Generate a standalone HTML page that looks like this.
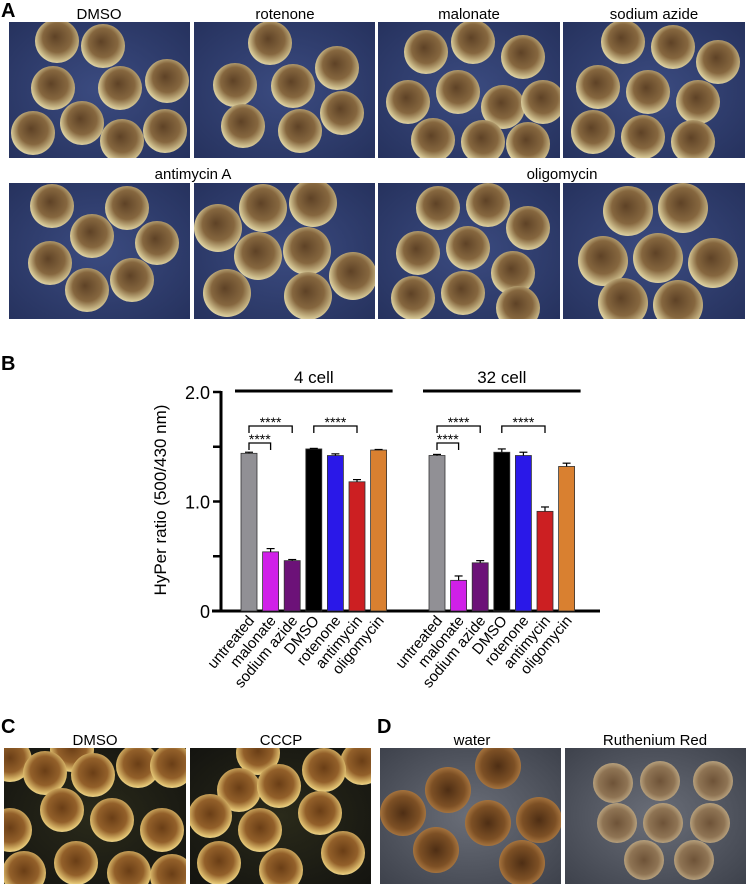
<!DOCTYPE html>
<html><head><meta charset="utf-8"><style>
html,body{margin:0;padding:0;background:#fff;}
svg{display:block;font-family:"Liberation Sans",Arial,sans-serif;}
</style></head><body>
<svg id="fig" width="747" height="886" viewBox="0 0 747 886">
<defs>
<radialGradient id="eggA" cx="0.55" cy="0.45" r="0.6" fx="0.45" fy="0.4">
<stop offset="0" stop-color="#5e4226"/><stop offset="0.55" stop-color="#86673f"/><stop offset="0.85" stop-color="#cdbd8c"/><stop offset="1" stop-color="#e9e1b8"/></radialGradient>
<radialGradient id="eggC" cx="0.5" cy="0.45" r="0.6">
<stop offset="0" stop-color="#6a3e16"/><stop offset="0.55" stop-color="#93602a"/><stop offset="0.85" stop-color="#e0c070"/><stop offset="1" stop-color="#f6eab0"/></radialGradient>
<radialGradient id="eggD" cx="0.5" cy="0.5" r="0.6">
<stop offset="0" stop-color="#4e2e14"/><stop offset="0.6" stop-color="#7d5025"/><stop offset="0.9" stop-color="#b07d45"/><stop offset="1" stop-color="#c89a60"/></radialGradient>
<radialGradient id="eggD2" cx="0.5" cy="0.5" r="0.6">
<stop offset="0" stop-color="#6e5338"/><stop offset="0.6" stop-color="#8f7454"/><stop offset="0.9" stop-color="#c2ad88"/><stop offset="1" stop-color="#d8c9a6"/></radialGradient>
<radialGradient id="bgC" cx="0.5" cy="0.5" r="0.7"><stop offset="0" stop-color="#2a2a1a"/><stop offset="1" stop-color="#141410"/></radialGradient>
<radialGradient id="bgA" cx="0.5" cy="0.5" r="0.7"><stop offset="0" stop-color="#3b4b80"/><stop offset="1" stop-color="#26325e"/></radialGradient>
<radialGradient id="bgD" cx="0.5" cy="0.5" r="0.7"><stop offset="0" stop-color="#6a6e78"/><stop offset="1" stop-color="#3e424c"/></radialGradient>
</defs>
<g id="photos"></g>
<g id="chart"></g>
<g font-weight="bold" font-size="20" fill="#000">
<text x="1" y="17">A</text>
<text x="1" y="370">B</text>
<text x="1" y="733">C</text>
<text x="377" y="733">D</text>
</g>
<g font-size="15" text-anchor="middle" fill="#000">
<text x="99" y="19">DMSO</text>
<text x="285" y="19">rotenone</text>
<text x="469" y="19">malonate</text>
<text x="654" y="19">sodium azide</text>
<text x="193" y="179">antimycin A</text>
<text x="562" y="179">oligomycin</text>
<text x="95" y="745">DMSO</text>
<text x="281" y="745">CCCP</text>
<text x="472" y="745">water</text>
<text x="655" y="745">Ruthenium Red</text>
</g>
</svg>
<script>
const NS="http://www.w3.org/2000/svg";
function mk(tag,attrs,parent){const e=document.createElementNS(NS,tag);for(const k in attrs)e.setAttribute(k,attrs[k]);parent.appendChild(e);return e;}
const photos=document.getElementById('photos');
const panels=[
 {n:'photo-dmso-a',x:9,y:22,w:181,h:136,bg:'url(#bgA)',egg:'url(#eggA)',r:22,e:[[48,19],[94,24],[44,66],[111,66],[158,59],[24,111],[73,101],[113,119],[156,109]]},
 {n:'photo-rotenone',x:194,y:22,w:181,h:136,bg:'url(#bgA)',egg:'url(#eggA)',r:22,e:[[76,21],[41,63],[99,64],[143,46],[49,104],[106,109],[148,91]]},
 {n:'photo-malonate',x:378,y:22,w:182,h:136,bg:'url(#bgA)',egg:'url(#eggA)',r:22,e:[[48,30],[95,20],[145,35],[30,80],[80,70],[125,85],[165,80],[55,118],[105,120],[150,122]]},
 {n:'photo-sodium-azide',x:563,y:22,w:182,h:136,bg:'url(#bgA)',egg:'url(#eggA)',r:22,e:[[60,20],[110,25],[155,40],[35,65],[85,70],[135,80],[30,110],[80,115],[130,120]]},
 {n:'photo-antimycin-1',x:9,y:183,w:181,h:136,bg:'url(#bgA)',egg:'url(#eggA)',r:22,e:[[43,23],[118,25],[83,53],[148,60],[41,80],[123,97],[78,107]]},
 {n:'photo-antimycin-2',x:194,y:183,w:181,h:136,bg:'url(#bgA)',egg:'url(#eggA)',r:24,e:[[69,25],[119,20],[24,45],[64,73],[113,68],[159,93],[33,110],[114,113]]},
 {n:'photo-oligomycin-1',x:378,y:183,w:182,h:136,bg:'url(#bgA)',egg:'url(#eggA)',r:22,e:[[60,25],[110,22],[150,45],[40,70],[90,65],[135,90],[35,115],[85,110],[140,125]]},
 {n:'photo-oligomycin-2',x:563,y:183,w:182,h:136,bg:'url(#bgA)',egg:'url(#eggA)',r:25,e:[[65,28],[120,25],[40,78],[95,75],[150,80],[60,120],[115,122]]},
 {n:'photo-dmso-c',x:4,y:748,w:182,h:136,bg:'url(#bgC)',egg:'url(#eggC)',r:22,e:[[68,2],[6,12],[41,25],[89,27],[134,18],[168,18],[58,62],[108,72],[158,82],[6,82],[72,115],[20,125],[125,125],[168,128]]},
 {n:'photo-cccp',x:190,y:748,w:181,h:136,bg:'url(#bgC)',egg:'url(#eggC)',r:22,e:[[68,5],[172,15],[49,42],[89,38],[134,22],[20,68],[70,82],[130,65],[29,115],[91,122],[153,105]]},
 {n:'photo-water',x:380,y:748,w:181,h:136,bg:'url(#bgD)',egg:'url(#eggD)',r:23,e:[[68,42],[118,18],[23,65],[108,75],[159,72],[56,102],[142,115]]},
 {n:'photo-ruthenium-red',x:565,y:748,w:181,h:136,bg:'url(#bgD)',egg:'url(#eggD2)',r:20,e:[[48,35],[95,33],[148,33],[52,75],[98,75],[145,75],[79,112],[129,112]]}
];
panels.forEach(p=>{
 const g=mk('g',{},photos);
 
 
 const cp=mk('clipPath',{id:'cp-'+p.n},g);
 mk('rect',{x:p.x,y:p.y,width:p.w,height:p.h},cp);
 mk('rect',{x:p.x,y:p.y,width:p.w,height:p.h,fill:p.bg},g);
 const eg=mk('g',{'clip-path':'url(#cp-'+p.n+')'},g);
 p.e.forEach(c=>{mk('circle',{cx:p.x+c[0],cy:p.y+c[1],r:p.r,fill:p.egg},eg);});
});

// ---- chart data ----
const categories=['untreated','malonate','sodium azide','DMSO','rotenone','antimycin','oligomycin'];
const colors=['#919095','#d020e8','#6c1278','#000000','#2a18e8','#cc1f22','#d98030'];
const values4=[1.44,0.54,0.46,1.48,1.42,1.18,1.47];
const errors4=[0.01,0.03,0.01,0.005,0.015,0.02,0.005];
const values32=[1.42,0.28,0.44,1.45,1.42,0.91,1.32];
const errors32=[0.01,0.04,0.02,0.03,0.03,0.04,0.03];
const yTicks=[0,0.5,1,1.5,2];
const yTickLabels=['0','','1.0','','2.0'];
const groupLabels=['4 cell','32 cell'];

const ch=document.getElementById('chart');
const y0=611,y2=392;
function yScale(v){return y0-(y0-y2)*v/2;}
const groupStart=[249,437];
const step=21.6,bw=16;
function xScale(g,i){return groupStart[g]+i*step;}

const ax=mk('line',{x1:221,y1:y2-1,x2:221,y2:y0+1,stroke:'#000','stroke-width':3},ch);


const xa=mk('line',{x1:212,y1:y0,x2:600,y2:y0,stroke:'#000','stroke-width':3},ch);


yTicks.forEach((t,i)=>{
 const y=yScale(t);
 const tk=mk('line',{x1:213,y1:y,x2:221,y2:y,stroke:'#000','stroke-width':2.5},ch);
 
 
 if(yTickLabels[i]){
  const tl=mk('text',{x:210,y:y+7,'text-anchor':'end','font-size':18},ch);
  tl.textContent=yTickLabels[i];
  
  
 }
});
const yt=mk('text',{x:0,y:0,'text-anchor':'middle','font-size':17,transform:'translate(166,500) rotate(-90)'},ch);
yt.textContent='HyPer ratio (500/430 nm)';



[[values4,errors4],[values32,errors32]].forEach((s,g)=>{
 const x1=xScale(g,0)-14,x2=xScale(g,6)+14;
 const gl=mk('line',{x1:x1,y1:391,x2:x2,y2:391,stroke:'#000','stroke-width':3},ch);
 
 
 const gt=mk('text',{x:(x1+x2)/2,y:383,'text-anchor':'middle','font-size':17},ch);
 gt.textContent=groupLabels[g];
 
 
 s[0].forEach((v,i)=>{
  const cx=xScale(g,i);
  const y=yScale(v);
  const b=mk('rect',{x:cx-bw/2,y:y,width:bw,height:y0-y,fill:colors[i],stroke:'#333','stroke-width':0.8},ch);
  
  
  const ye=yScale(v+s[1][i]);
  const e1=mk('line',{x1:cx,y1:y,x2:cx,y2:ye,stroke:'#000','stroke-width':1.2},ch);
  
  
  const e2=mk('line',{x1:cx-4,y1:ye,x2:cx+4,y2:ye,stroke:'#000','stroke-width':1.2},ch);
  
  
  const lb=mk('text',{x:0,y:0,'text-anchor':'end','font-size':15,transform:'translate('+(cx+6)+',621) rotate(-50)'},ch);
  lb.textContent=categories[i];
  
  
 });
 [[0,1,443],[0,2,426],[3,5,426]].forEach(br=>{
  const a=xScale(g,br[0]),c=xScale(g,br[1]),yy=br[2];
  const p=mk('path',{d:'M'+a+','+(yy+7)+'V'+yy+'H'+c+'V'+(yy+7),fill:'none',stroke:'#000','stroke-width':1.3},ch);
  
  
  const st=mk('text',{x:(a+c)/2,y:yy+1,'text-anchor':'middle','font-size':14},ch);
  st.textContent='****';
  
  
 });
});
</script>
</body></html>
